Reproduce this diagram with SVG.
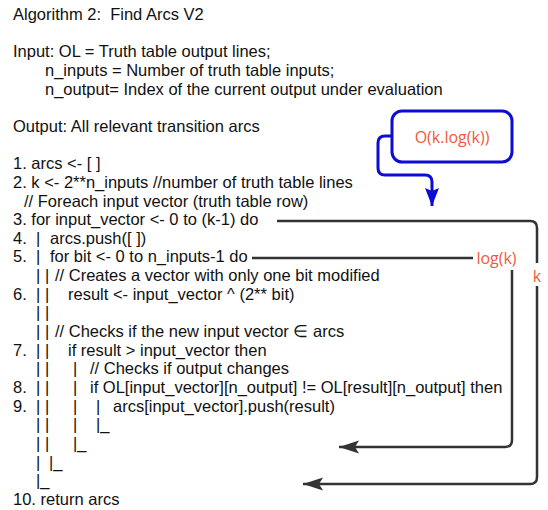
<svg xmlns="http://www.w3.org/2000/svg" width="548" height="510" viewBox="0 0 548 510">
<style>
.t{font-family:"Liberation Sans",Arial,sans-serif;font-size:16.5px;fill:#111;white-space:pre}
.lbl{font-family:"Open Sans","Noto Sans",sans-serif;font-size:16px;fill:#f05a3c;white-space:pre}
.con{fill:none;stroke:#333;stroke-width:2.5}
.blue{fill:none;stroke:#0c0cd2;stroke-width:3}
</style>
<defs>
<marker id="ah" markerUnits="userSpaceOnUse" markerWidth="22" markerHeight="16" refX="20" refY="8" orient="auto">
<path d="M0,1.5 L20,8 L0,14.5 L4,8 Z" fill="#333"/>
</marker>
<marker id="ahb" markerUnits="userSpaceOnUse" markerWidth="22" markerHeight="18" refX="18" refY="9" orient="auto">
<path d="M0,2 L18,9 L0,16 L3,9 Z" fill="#0c0cd2"/>
</marker>
</defs>
<rect width="548" height="510" fill="#fff"/>
<g id="code">
<text class="t" x="13" y="20">Algorithm 2:  Find Arcs V2</text>
<text class="t" x="13" y="57.3">Input: OL = Truth table output lines;</text>
<text class="t" x="45" y="75.95">n_inputs = Number of truth table inputs;</text>
<text class="t" x="45" y="94.6">n_output= Index of the current output under evaluation</text>
<text class="t" x="13" y="131.9">Output: All relevant transition arcs</text>
<text class="t" x="13" y="169.2">1. arcs &lt;- [ ]</text>
<text class="t" x="13" y="187.85">2. k &lt;- 2**n_inputs //number of truth table lines</text>
<text class="t" x="24" y="206.5">// Foreach input vector (truth table row)</text>
<text class="t" x="13" y="225.15">3. for input_vector &lt;- 0 to (k-1) do</text>
<text class="t" y="243.8"><tspan x="13">4. </tspan><tspan x="36">| </tspan><tspan x="50">arcs.push([ ])</tspan></text>
<text class="t" y="262.45"><tspan x="13">5. </tspan><tspan x="36">| </tspan><tspan x="50">for bit &lt;- 0 to n_inputs-1 do</tspan></text>
<text class="t" y="281.1"><tspan x="36">| </tspan><tspan x="45">| </tspan><tspan x="55">// Creates a vector with only one bit modified</tspan></text>
<text class="t" y="299.75"><tspan x="13">6. </tspan><tspan x="36">| </tspan><tspan x="45">| </tspan><tspan x="68">result &lt;- input_vector ^ (2** bit)</tspan></text>
<text class="t" y="318.4"><tspan x="36">| </tspan><tspan x="45">|</tspan></text>
<text class="t" y="337.05"><tspan x="36">| </tspan><tspan x="45">| </tspan><tspan x="55">// Checks if the new input vector ∈ arcs</tspan></text>
<text class="t" y="355.7"><tspan x="13">7. </tspan><tspan x="36">| </tspan><tspan x="45">| </tspan><tspan x="68">if result &gt; input_vector then</tspan></text>
<text class="t" y="374.35"><tspan x="36">| </tspan><tspan x="45">| </tspan><tspan x="73">| </tspan><tspan x="90">// Checks if output changes</tspan></text>
<text class="t" y="393"><tspan x="13">8. </tspan><tspan x="36">| </tspan><tspan x="45">| </tspan><tspan x="73">| </tspan><tspan x="90">if OL[input_vector][n_output] != OL[result][n_output] then</tspan></text>
<text class="t" y="411.65"><tspan x="13">9. </tspan><tspan x="36">| </tspan><tspan x="45">| </tspan><tspan x="73">| </tspan><tspan x="96">| </tspan><tspan x="113">arcs[input_vector].push(result)</tspan></text>
<text class="t" y="430.3"><tspan x="36">| </tspan><tspan x="45">| </tspan><tspan x="73">| </tspan><tspan x="96">|_</tspan></text>
<text class="t" y="448.95"><tspan x="36">| </tspan><tspan x="45">| </tspan><tspan x="73">|_</tspan></text>
<text class="t" y="467.6"><tspan x="36">| </tspan><tspan x="49">|_</tspan></text>
<text class="t" y="486.25"><tspan x="36">|_</tspan></text>
<text class="t" x="13" y="504.9">10. return arcs</text>
</g>
<g id="connectors">
<path class="con" d="M277,221 H530 Q537,221 537,228 V477 Q537,484 530,484 H303" marker-end="url(#ah)"/>
<path class="con" d="M252,258 H505 Q512,258 512,265 V440 Q512,447 505,447 H339" marker-end="url(#ah)"/>
<path class="blue" d="M392,136 H385 Q378,136 378,143 V168 Q378,175 385,175 H425 Q432,175 432,182 V206" marker-end="url(#ahb)"/>
</g>
<g id="label-logk">
<rect x="473" y="246" width="47" height="24" fill="#fff"/>
<text class="lbl" x="496.5" y="264" text-anchor="middle">log(k)</text>
</g>
<g id="label-k">
<rect x="530" y="263" width="14" height="23" fill="#fff"/>
<text class="lbl" x="537" y="282" text-anchor="middle">k</text>
</g>
<g id="complexity-box">
<rect x="392" y="111" width="120" height="51" rx="10" fill="#fff" stroke="#0c0cd2" stroke-width="3"/>
<text class="lbl" x="452" y="143" text-anchor="middle">O(k.log(k))</text>
</g>
</svg>
